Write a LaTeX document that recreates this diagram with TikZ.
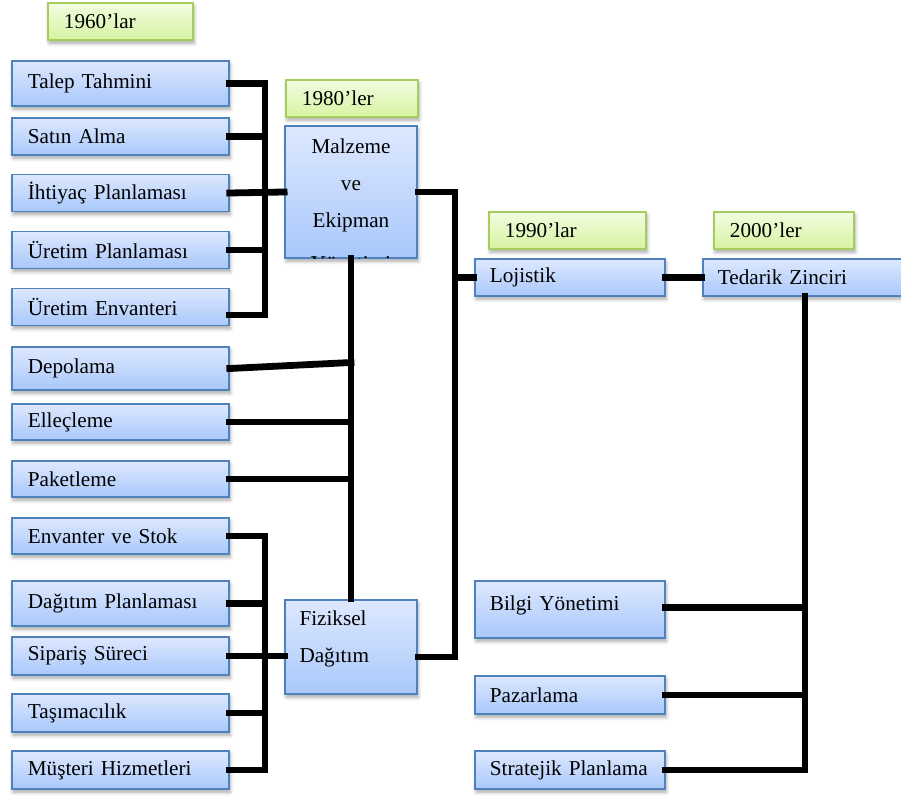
\documentclass[tikz,border=0pt]{standalone}
\usepackage{fontspec}
\setmainfont{Liberation Serif}
\usetikzlibrary{shadows.blur}
\definecolor{boxtop}{HTML}{DDE8FE}
\definecolor{boxbot}{HTML}{A9C8FB}
\definecolor{boxline}{HTML}{4F81BD}
\definecolor{gtop}{HTML}{F2FDE0}
\definecolor{gbot}{HTML}{D6F3A2}
\definecolor{gline}{HTML}{A6CB5E}
\begin{document}
\begin{tikzpicture}[x=0.5pt,y=-0.5pt,
    font=\fontsize{10.6}{12.7}\selectfont,
    box/.style={draw=boxline, line width=0.9pt, top color=boxtop, bottom color=boxbot,
        blur shadow={shadow xshift=0.6pt, shadow yshift=-1.6pt, shadow blur steps=5, shadow opacity=35}},
    lbox/.style={box, anchor=west, inner xsep=8pt, text width=92.5pt, align=left, minimum height=18.5pt},
    rbox/.style={box, anchor=west, inner xsep=7.5pt, text width=80pt, align=left, minimum height=18.5pt},
    gbox/.style={draw=gline, line width=0.9pt, top color=gtop, bottom color=gbot, anchor=west,
        inner xsep=8pt, align=left, minimum height=18.5pt,
        blur shadow={shadow xshift=0.6pt, shadow yshift=-1.6pt, shadow blur steps=5, shadow opacity=35}},
    link/.style={line width=3.4pt, line cap=rect}]
    \useasboundingbox (0,0) rectangle (901,796);

    % years
    \node[gbox, text width=56.5pt] (y60) at (47,21.5) {1960'lar};
    \node[gbox, text width=50pt] (y80) at (285,98.5) {1980'ler};
    \node[gbox, text width=62.5pt] (y90) at (488,230.5) {1990'lar};
    \node[gbox, text width=54pt] (y00) at (713,230.5) {2000'ler};

    % left column
    \node[lbox, minimum height=22.5pt] (talep) at (11,83.5) {Talep Tahmini};
    \node[lbox] (satin) at (11,136.5) {Satın Alma};
    \node[lbox] (ihtiyac) at (11,193) {İhtiyaç Planlaması};
    \node[lbox] (uplan) at (11,250) {Üretim Planlaması};
    \node[lbox] (uenv) at (11,307) {Üretim Envanteri};
    \node[lbox, minimum height=21.5pt] (depo) at (11,368.5) {Depolama};
    \node[lbox, minimum height=18pt] (ellec) at (11,422) {Elleçleme};
    \node[lbox, minimum height=18pt] (paket) at (11,479) {Paketleme};
    \node[lbox, minimum height=18pt] (envstok) at (11,536) {Envanter ve Stok};
    \node[lbox, minimum height=22.5pt] (dplan) at (11,603.5) {Dağıtım Planlaması};
    \node[lbox, minimum height=19pt] (siparis) at (11,656) {Sipariş Süreci};
    \node[lbox, minimum height=19pt] (tasima) at (11,713) {Taşımacılık};
    \node[lbox, minimum height=19pt] (musteri) at (11,770) {Müşteri Hizmetleri};

    % middle column
    \node[box, minimum width=66pt, minimum height=66pt] (malz) at (351,192) {};
    \begin{scope}
        \clip (malz.north west) rectangle (malz.south east);
        \node[align=center, font=\fontsize{10.6}{18.5}\selectfont] (malztxt) at ([yshift=-6.5pt]malz.center) {Malzeme\\ve\\Ekipman\\[3pt]Yönetimi};
    \end{scope}
    \node[box, minimum width=66pt, minimum height=47pt] (fiz) at (351,647) {};
    \node[anchor=west, align=left, inner xsep=7.5pt, font=\fontsize{10.6}{18.5}\selectfont] (fiztxt) at ([yshift=4.25pt]fiz.west) {Fiziksel\\Dağıtım};

    % right column
    \node[rbox] (loj) at (474,277.5) {Lojistik};
    \node[rbox, text width=85pt] (ted) at (702,277.5) {Tedarik Zinciri};
    \node[rbox, minimum height=28.5pt] (bilgi) at (474,609.5) {\raisebox{6.5pt}{Bilgi Yönetimi}};
    \node[rbox, minimum height=19pt] (pazar) at (474,695) {Pazarlama};
    \node[rbox, minimum height=19pt] (strat) at (474,770) {Stratejik Planlama};

    \coordinate (busA) at (265,0);
    \coordinate (busB) at (455,0);
    \coordinate (busD) at (805,0);

    % 1960'lar group
    \draw[link] (talep.east) -- (talep.east -| busA) -- ([yshift=-4pt]uenv.east -| busA) -- ([yshift=-4pt]uenv.east);
    \foreach \n in {satin,uplan}
        \draw[link] (\n.east) -- (\n.east -| busA);
    \draw[link] (ihtiyac.east) -- (malz.west);

    % malzeme - fiziksel
    \draw[link] (malz.south) -- (fiz.north);
    \draw[link] (depo.east) -- ([yshift=3pt]depo.east -| malz.south);
    \foreach \n in {ellec,paket}
        \draw[link] (\n.east) -- (\n.east -| malz.south);

    % fiziksel group
    \draw[link] (envstok.east) -- (envstok.east -| busA) -- (musteri.east -| busA) -- (musteri.east);
    \foreach \n in {dplan,tasima}
        \draw[link] (\n.east) -- (\n.east -| busA);
    \draw[link] (siparis.east) -- (siparis.east -| fiz.west);

    % lojistik
    \draw[link] (malz.east) -- (malz.east -| busB) -- ([yshift=-5pt]fiz.east -| busB) -- ([yshift=-5pt]fiz.east);
    \draw[link] (loj.west -| busB) -- (loj.west);
    \draw[link] (loj.east) -- (ted.west);

    % tedarik zinciri
    \draw[link] (ted.south -| busD) -- (strat.east -| busD) -- (strat.east);
    \draw[link] ([yshift=1pt]bilgi.east) -- ([yshift=1pt]bilgi.east -| busD);
    \draw[link] (pazar.east) -- (pazar.east -| busD);
\end{tikzpicture}
\end{document}
